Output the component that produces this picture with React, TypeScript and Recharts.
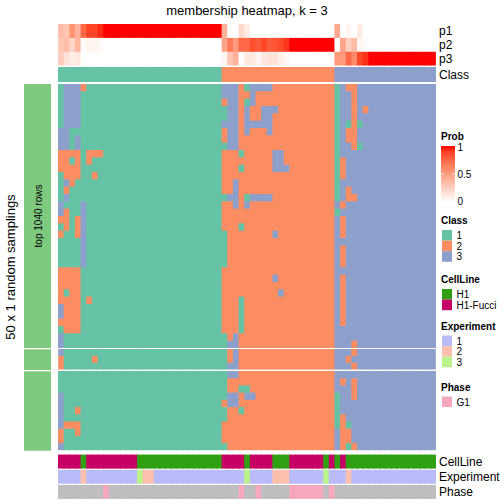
import { Scatter, ScatterChart, XAxis, YAxis } from "recharts";

const FONT = "'Liberation Sans', Arial, Helvetica, sans-serif";

// Class call of each of the 50 random samplings (rows) for the 67 samples (columns).
// Spaces only split the string into readable chunks.
const MEMBERSHIP_ROWS = [
  "1333211111 1111111111 111111111 3332133332 2222222222 1322333333 33333333",
  "1333111111 1111111111 111111111 3332232222 2222222222 1332333333 33333333",
  "1333111111 1111111111 111111111 2332132222 2222222222 1332333333 33333333",
  "1333111111 1111111111 111111111 1332322333 2222222222 1332323333 33333333",
  "1333111111 1111111111 111111111 1332322332 2222222222 1332333333 33333333",
  "1333111111 1111111111 111111111 3332333332 2222222222 1312133333 33333333",
  "3311111111 1111111111 111111111 2332322232 2222222222 1322333333 33333333",
  "3313111111 1111111111 111111111 2332222222 2222222222 1322333333 33333333",
  "3313111111 1111111111 111111111 1332222222 2222222222 1332133333 33333333",
  "2222122211 1111111111 111111111 2221222223 3222222222 1333333333 33333333",
  "2212121111 1111111111 111111111 2222222223 3222222222 1233333333 33333333",
  "2222111111 1111111111 111111111 2221222223 3322222222 1233333333 33333333",
  "1222112111 1111111111 111111111 2222222222 2222222222 1233333333 33333333",
  "1321111111 1111111111 111111111 2232222222 2222222222 1333333333 33333333",
  "1211111111 1111111111 111111111 2232222222 2222222222 1323333333 33333333",
  "1311111111 1111111111 111111111 1332133332 2222222222 1322333333 33333333",
  "3111311111 1111111111 111111111 2232322222 2222222222 3233333333 33333333",
  "3211311111 1111111111 111111111 2222222222 2222222222 1333333333 33333333",
  "2212311111 1111111111 111111111 2222222222 2222222222 3233333333 33333333",
  "1212311111 1111111111 111111111 2221222222 2222222222 3233333333 33333333",
  "2112311111 1111111111 111111111 1222222223 2222222222 3233333333 33333333",
  "1111311111 1111111111 111111111 1222222222 2222222222 3333333333 33333333",
  "1111311111 1111111111 111111111 1222222222 2222222222 3233333333 33333333",
  "1111311111 1111111111 111111111 1222222222 2222222222 3233333333 33333333",
  "1111311111 1111111111 111111111 1222222222 2222222222 3233333333 33333333",
  "2222111111 1111111111 111111111 2222222222 2222222222 3333333333 33333333",
  "2222111111 1111111111 111111111 2222222223 2222222222 3233333333 33333333",
  "2222111111 1111111111 111111111 2222222222 2222222222 3233333333 33333333",
  "2122111111 1111111111 111111111 2222222222 3222222222 3233333333 33333333",
  "2222121111 1111111111 111111111 2221222222 2222222222 3233333333 33333333",
  "3222111111 1111111111 111111111 2221222222 2222222222 3233333333 33333333",
  "3222111111 1111111111 111111111 2221222222 2222222222 3233333333 33333333",
  "2222111111 1111111111 111111111 2221222222 2222222222 3233333333 33333333",
  "1222111111 1111111111 111111111 2221222222 2222222222 3333333333 33333333",
  "3111111111 1111111111 111111111 1232222222 2222222222 3333333333 33333333",
  "3111111111 1111111111 111111111 1332222222 2222222222 3332333333 33333333",
  "3111111111 1111111111 111111111 1232222222 2222222222 3332333333 33333333",
  "2111112111 1111111111 111111111 1232222222 2222222222 3323333333 33333333",
  "2111111111 1111111111 111111111 1332222222 2222222222 3332333333 33333333",
  "1111111111 1111111111 111111111 1332222222 2222222222 3333333333 33333333",
  "1111111111 1111111111 111111111 1222222222 2222222222 3232333333 33333333",
  "1111111111 1111111111 111111111 1221122222 2222222222 3332333333 33333333",
  "3111111111 1111111111 111111111 1332332222 2222222222 1332333333 33333333",
  "3111111111 1111111111 111111111 2332222222 2222222222 1333333333 33333333",
  "3112111111 1111111111 111111111 1221222222 2222222222 1333333333 33333333",
  "3111111111 1111111111 111111111 1222222222 2222222222 1233333333 33333333",
  "3222111111 1111111111 111111111 2222222222 2222222222 1213333333 33333333",
  "2112111111 1111111111 111111111 2222222222 2222222222 3223333333 33333333",
  "2111111111 1111111111 111111111 2222222222 2222222222 3223333333 33333333",
  "3111111111 1111111111 111111111 1222222222 2222222222 3212333333 33333333",
];
const ROW_SLICES = [36, 3, 11];

const SAMPLE_CLASS = "1111111111 1111111111 111111111 2222222222 2222222222 3333333333 33333333";

// membership probabilities per sample
const P1 = [
  0.35, 0.3, 0.55, 0.4, 0.75, 0.88, 0.88, 0.95,
  1, 1, 1, 1, 1, 1, 1, 1, 1, 1, 1, 1, 1, 1, 1, 1, 1, 1, 1, 1, 1,
  0.4, 0, 0, 0.2, 0.1,
  0, 0, 0, 0, 0, 0, 0, 0, 0, 0, 0, 0, 0, 0, 0,
  0.45, 0, 0.05, 0, 0.1,
  0, 0, 0, 0, 0, 0, 0, 0, 0, 0, 0, 0, 0,
];
const P2 = [
  0.3, 0.35, 0.22, 0.38, 0.02, 0.06, 0.06, 0.03,
  0, 0, 0, 0, 0, 0, 0, 0, 0, 0, 0, 0, 0, 0, 0, 0, 0, 0, 0, 0, 0,
  0.47, 0.68, 0.52, 0.75, 0.75, 0.85, 0.8, 0.87, 0.8, 0.83, 0.86, 0.92,
  1, 1, 1, 1, 1, 1, 1, 1,
  0.02, 0.47, 0.25, 0.35, 0.05, 0.02,
  0, 0, 0, 0, 0, 0, 0, 0, 0, 0, 0, 0,
];
const P3 = [
  0.27, 0.15, 0.1, 0.12,
  0, 0, 0, 0, 0, 0, 0, 0, 0, 0, 0, 0, 0, 0, 0, 0, 0, 0, 0, 0, 0, 0, 0, 0, 0,
  0.05, 0.3, 0.4, 0, 0.12, 0.12, 0.05, 0.12, 0.15, 0.15, 0.08, 0.04,
  0, 0, 0, 0, 0, 0, 0, 0,
  0.52, 0.52, 0.75, 0.6, 0.87, 0.93,
  1, 1, 1, 1, 1, 1, 1, 1, 1, 1, 1, 1,
];

// H = H1, F = H1-Fucci
const CELL_LINE = "FFFFHFFFFF FFFFHHHHHH HHHHHHHHH FFFFHFFFFH HHFFFFFFHF HFHHHHHHHH HHHHHHHH";
const EXPERIMENT = "1111211111 1111322111 111111111 1111311112 2211111131 1121111111 11111111";
// G = G1, - = NA
const PHASE = "--------G- ---------- --------- ---G--G--- --GGGGGG-G ---------- --------";

const CLASS_COLORS: Record<string, string> = { "1": "#66C2A5", "2": "#FC8D62", "3": "#8DA0CB" };
const CELL_LINE_COLORS: Record<string, string> = { H: "#30A012", F: "#C70066" };
const CELL_LINE_NAMES: Record<string, string> = { H: "H1", F: "H1-Fucci" };
const EXPERIMENT_COLORS: Record<string, string> = { "1": "#B9BCF8", "2": "#FDC0AF", "3": "#BAF28C" };
const PHASE_COLORS: Record<string, string> = { G: "#F8A8BE", "-": "#BEBEBE" };
const ROW_ANNO_COLOR = "#7FC97F";

const chars = (s: string) => s.replace(/\s/g, "").split("");

// white -> red through Lab, like colorRamp2
function probColor(v: number) {
  const L = 100 + (53.24 - 100) * v;
  const a = 80.09 * v;
  const b = 67.2 * v;
  const fy = (L + 16) / 116;
  const fx = fy + a / 500;
  const fz = fy - b / 200;
  const inv = (t: number) => (t ** 3 > 0.008856 ? t ** 3 : (t - 16 / 116) / 7.787);
  const X = 0.95047 * inv(fx);
  const Y = inv(fy);
  const Z = 1.08883 * inv(fz);
  const lin = [
    3.2406 * X - 1.5372 * Y - 0.4986 * Z,
    -0.9689 * X + 1.8758 * Y + 0.0415 * Z,
    0.0557 * X - 0.204 * Y + 1.057 * Z,
  ];
  const [r, g, bb] = lin.map((c) => {
    const s = c <= 0.0031308 ? 12.92 * c : 1.055 * Math.pow(Math.max(c, 0), 1 / 2.4) - 0.055;
    return Math.round(Math.min(1, Math.max(0, s)) * 255);
  });
  return `rgb(${r},${g},${bb})`;
}

const LEFT = 58;
const WIDTH = 378;

function HeatStrip({
  top,
  height,
  rows,
  gap = 0,
}: {
  top: number;
  height: number;
  rows: string[][];
  gap?: number;
}) {
  const nRow = rows.length;
  const nCol = rows[0].length;
  const cw = WIDTH / nCol;
  const ch = height / nRow;
  const cells = rows.flatMap((row, r) => row.map((fill, c) => ({ x: c + 0.5, y: r + 0.5, fill })));
  return (
    <div style={{ position: "absolute", left: LEFT, top }}>
      <ScatterChart width={WIDTH} height={height} margin={{ top: 0, right: 0, bottom: 0, left: 0 }}>
        <XAxis type="number" dataKey="x" domain={[0, nCol]} allowDataOverflow hide height={0} />
        <YAxis type="number" dataKey="y" domain={[0, nRow]} allowDataOverflow reversed hide width={0} />
        <Scatter
          data={cells}
          isAnimationActive={false}
          shape={(p: any) => {
            const d = p.payload ?? {};
            // overlap neighbours by 1px so no seams show between cells
            const padX = d.x < nCol - 1 ? 1 : 0;
            const padY = !gap && d.y < nRow - 1 ? 1 : 0;
            return (
              <rect
                x={p.cx - cw / 2}
                y={p.cy - ch / 2 + gap / 2}
                width={cw + padX}
                height={ch - gap + padY}
                fill={d.fill ?? p.fill}
              />
            );
          }}
        />
      </ScatterChart>
    </div>
  );
}

const SLICE_BOXES = [
  { top: 84, height: 264 },
  { top: 349.3, height: 20.7 },
  { top: 371.3, height: 79.4 },
];

function LegendBlock({ title, y, items }: { title: string; y: number; items: [string, string][] }) {
  return (
    <g>
      <text x={441} y={y} fontSize={10} fontWeight="bold">{title}</text>
      {items.map(([label, color], i) => (
        <g key={label}>
          <rect x={442} y={y + 6 + i * 10.6} width={10} height={10.6} fill={color} />
          <text x={456.5} y={y + 6 + i * 10.6 + 9} fontSize={10}>{label}</text>
        </g>
      ))}
    </g>
  );
}

export default function App() {
  const matrix = MEMBERSHIP_ROWS.map((r) => chars(r).map((k) => CLASS_COLORS[k]));
  let start = 0;
  const slices = ROW_SLICES.map((n) => {
    const s = matrix.slice(start, start + n);
    start += n;
    return s;
  });

  const probRows = [P1, P2, P3].map((p) => p.map(probColor));
  const classRow = [chars(SAMPLE_CLASS).map((k) => CLASS_COLORS[k])];
  const bottomRows = [
    chars(CELL_LINE).map((k) => CELL_LINE_COLORS[k]),
    chars(EXPERIMENT).map((k) => EXPERIMENT_COLORS[k]),
    chars(PHASE).map((k) => PHASE_COLORS[k]),
  ];

  const stops = Array.from({ length: 11 }, (_, i) => i / 10);

  return (
    <div style={{ position: "absolute", left: 0, top: 0, width: 504, height: 504, background: "#fff", fontFamily: FONT }}>
      <HeatStrip top={24} height={41.7} rows={probRows} />
      <HeatStrip top={66.7} height={15} rows={classRow} />
      {slices.map((rows, i) => (
        <HeatStrip key={i} top={SLICE_BOXES[i].top} height={SLICE_BOXES[i].height} rows={rows} />
      ))}
      <HeatStrip top={453.5} height={45.5} rows={bottomRows} gap={1.2} />

      <svg width={504} height={504} style={{ position: "absolute", left: 0, top: 0, pointerEvents: "none" }} fontFamily={FONT}>
        <defs>
          <linearGradient id="probGrad" x1="0" y1="0" x2="0" y2="1">
            {stops.map((o) => (
              <stop key={o} offset={o} stopColor={probColor(1 - o)} />
            ))}
          </linearGradient>
        </defs>

        <text x={247} y={14.5} fontSize={13} textAnchor="middle">membership heatmap, k = 3</text>

        {SLICE_BOXES.map((b, i) => (
          <rect key={i} x={24} y={b.top} width={27} height={b.height} fill={ROW_ANNO_COLOR} />
        ))}
        <text transform="translate(41.5,216) rotate(-90)" fontSize={10} textAnchor="middle">top 1040 rows</text>
        <text transform="translate(14.5,267) rotate(-90)" fontSize={13} textAnchor="middle">50 x 1 random samplings</text>

        {[["p1", 35.3], ["p2", 49.2], ["p3", 63.1], ["Class", 78.5], ["CellLine", 465.5], ["Experiment", 480.5], ["Phase", 496]].map(
          ([label, y]) => (
            <text key={label as string} x={439} y={y as number} fontSize={12}>{label}</text>
          ),
        )}

        <text x={441} y={139.5} fontSize={10} fontWeight="bold">Prob</text>
        <rect x={441} y={146} width={14} height={56} fill="url(#probGrad)" />
        <line x1={441} x2={444} y1={174} y2={174} stroke="#fff" strokeWidth={0.8} />
        <line x1={452} x2={455} y1={174} y2={174} stroke="#fff" strokeWidth={0.8} />
        <text x={457.5} y={151} fontSize={10}>1</text>
        <text x={457.5} y={178} fontSize={10}>0.5</text>
        <text x={457.5} y={205} fontSize={10}>0</text>

        <LegendBlock title="Class" y={224} items={["1", "2", "3"].map((k) => [k, CLASS_COLORS[k]])} />
        <LegendBlock title="CellLine" y={283} items={["H", "F"].map((k) => [CELL_LINE_NAMES[k], CELL_LINE_COLORS[k]])} />
        <LegendBlock title="Experiment" y={329.5} items={["1", "2", "3"].map((k) => [k, EXPERIMENT_COLORS[k]])} />
        <LegendBlock title="Phase" y={390.5} items={[["G1", PHASE_COLORS.G]]} />
      </svg>
    </div>
  );
}
